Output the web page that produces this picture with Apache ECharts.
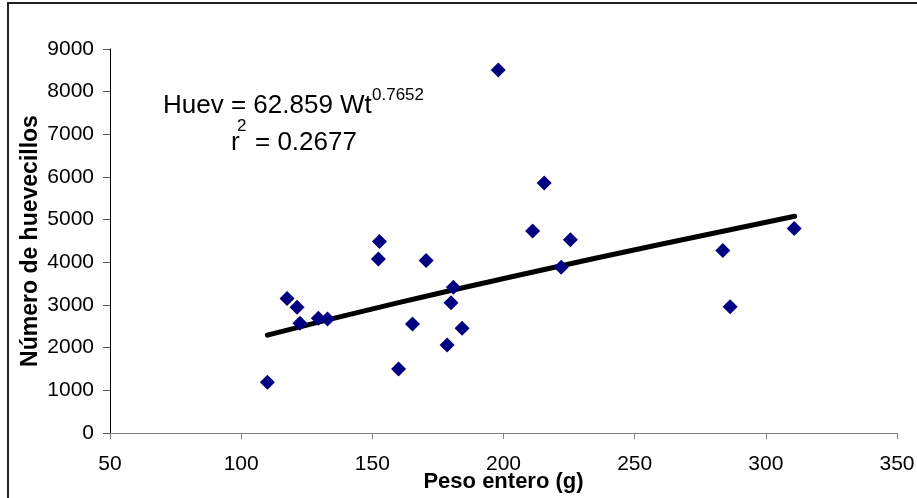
<!DOCTYPE html>
<html>
<head>
<meta charset="utf-8">
<script src="https://cdn.jsdelivr.net/npm/echarts@6/dist/echarts.min.js"></script>
<style>
html,body{margin:0;padding:0;background:#fff;}
#c{width:917px;height:498px;}
</style>
</head>
<body>
<div id="c"></div>
<script>
// Data
var pesoEntero = [110, 117.5, 121.3, 122.4, 129.4, 132.9, 152.7, 152.3, 160, 165.3, 170.5, 178.5, 180, 180.9, 184.2, 198, 211.1, 215.5, 222, 225.5, 283.6, 286.4, 310.8];
var huevecillos = [1190, 3155, 2945, 2570, 2690, 2670, 4490, 4080, 1500, 2555, 4045, 2060, 3055, 3415, 2455, 8505, 4735, 5860, 3885, 4530, 4275, 2960, 4795];
// Trend line points
var trendX = [110, 160, 210, 260, 311];
var trendY = [2295, 3055, 3755, 4425, 5080];
var xTicks = [50, 100, 150, 200, 250, 300, 350];
var yTicks = [0, 1000, 2000, 3000, 4000, 5000, 6000, 7000, 8000, 9000];

var pts = pesoEntero.map(function (x, i) { return [x, huevecillos[i]]; });
var trend = trendX.map(function (x, i) { return [x, trendY[i]]; });
var FONT = "'Liberation Sans', Arial, sans-serif";

var chart = echarts.init(document.getElementById('c'), null, {renderer: 'canvas'});
chart.setOption({
  backgroundColor: '#fff',
  animation: false,
  grid: {left: 110, right: 20, top: 49, bottom: 65, containLabel: false, outerBoundsMode: 'none'},
  xAxis: {
    type: 'value',
    min: xTicks[0], max: xTicks[xTicks.length - 1], interval: 50,
    name: 'Peso entero (g)',
    nameLocation: 'middle',
    nameGap: 38,
    nameMoveOverlap: false,
    nameTextStyle: {fontFamily: FONT, fontSize: 22, fontWeight: 'bold', color: '#000'},
    axisLine: {show: true, onZero: false, lineStyle: {color: '#808080', width: 1}},
    axisTick: {show: true, inside: false, length: 6, lineStyle: {color: '#808080'}},
    axisLabel: {fontFamily: FONT, fontSize: 21, color: '#000', margin: 21,
      formatter: function (v) { return String(v); }},
    splitLine: {show: false}
  },
  yAxis: {
    type: 'value',
    min: yTicks[0], max: yTicks[yTicks.length - 1], interval: 1000,
    name: 'Número de huevecillos',
    nameLocation: 'middle',
    nameGap: 68,
    nameMoveOverlap: false,
    nameTextStyle: {fontFamily: FONT, fontSize: 23, fontWeight: 'bold', color: '#000'},
    axisLine: {show: true, onZero: false, lineStyle: {color: '#000', width: 1}},
    axisTick: {show: true, inside: false, length: 7, lineStyle: {color: '#555'}},
    axisLabel: {fontFamily: FONT, fontSize: 21, color: '#000', margin: 16,
      formatter: function (v) { return String(v); }},
    splitLine: {show: false}
  },
  series: [
    {
      type: 'line',
      data: trend,
      smooth: true,
      showSymbol: false,
      lineStyle: {color: '#000', width: 5, cap: 'round'},
      z: 2
    },
    {
      type: 'scatter',
      data: pts,
      symbol: 'path://M0,-1L1,0L0,1L-1,0Z',
      symbolSize: 15,
      itemStyle: {color: '#000080', opacity: 1},
      z: 3
    }
  ],
  graphic: [
    {type: 'rect', shape: {x: 8, y: 3, width: 1000, height: 1000}, style: {fill: 'none', stroke: '#222', lineWidth: 2}, z: 0, silent: true},
    {type: 'text', x: 163, y: 106, style: {text: 'Huev = 62.859 Wt', font: '26px ' + FONT, fill: '#000', verticalAlign: 'middle'}, z: 10},
    {type: 'text', x: 372, y: 95, style: {text: '0.7652', font: '17px ' + FONT, fill: '#000', verticalAlign: 'middle'}, z: 10},
    {type: 'text', x: 231, y: 143, style: {text: 'r', font: '26px ' + FONT, fill: '#000', verticalAlign: 'middle'}, z: 10},
    {type: 'text', x: 237, y: 126, style: {text: '2', font: '17px ' + FONT, fill: '#000', verticalAlign: 'middle'}, z: 10},
    {type: 'text', x: 255, y: 143, style: {text: '= 0.2677', font: '26px ' + FONT, fill: '#000', verticalAlign: 'middle'}, z: 10}
  ]
});
</script>
</body>
</html>
